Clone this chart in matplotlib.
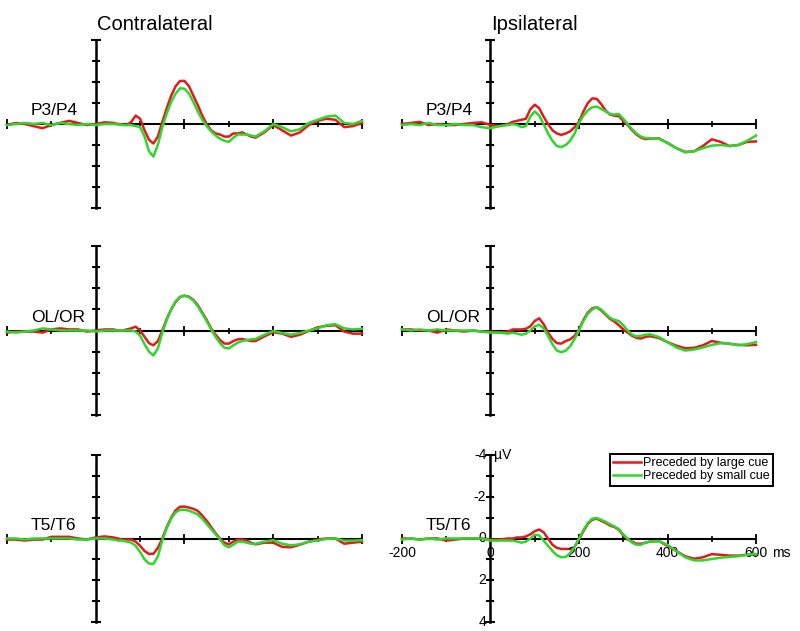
import numpy as np
import matplotlib
matplotlib.use('Agg')
import matplotlib.pyplot as plt
from matplotlib.lines import Line2D

plt.rcParams['font.family'] = ['Liberation Sans', 'DejaVu Sans']

# ---------------- data ----------------
time_ms = ([-200, -180, -160, -140, -120, -100, -80, -60, -40, -20, 0, 20, 40]
           + list(range(50, 351, 10))
           + list(range(360, 601, 20)))

column_titles = ['Contralateral', 'Ipsilateral']
site_labels = ['P3/P4', 'OL/OR', 'T5/T6']
legend_labels = ['Preceded by large cue', 'Preceded by small cue']
series_colors = ['#e31a1c', '#2fd62f']

# Contralateral P3/P4
contra_p3p4_large = [0.05, -0.05, 0.0, 0.1, 0.2, 0.05, -0.05, -0.15, -0.05, 0.05, 0.0, -0.08, -0.05,
                     0.0, 0.02, 0.05, -0.1, -0.4, -0.25, 0.3, 0.75, 0.93, 0.6, -0.1, -0.75, -1.35, -1.8, -2.05,
                     -2.05, -1.8, -1.35, -0.9, -0.4, 0.0, 0.3, 0.45, 0.5, 0.6, 0.6, 0.45, 0.45, 0.4, 0.5, 0.6,
                     0.65, 0.4, 0.05, 0.3, 0.55, 0.4, 0.05, -0.15, -0.25, -0.2, 0.15, 0.1, -0.05]
contra_p3p4_small = [0.05, 0.0, -0.05, 0.0, -0.05, 0.05, -0.05, 0.0, 0.05, 0.0, 0.05, 0.0, 0.0,
                     0.02, 0.05, 0.05, 0.05, 0.1, 0.15, 0.6, 1.3, 1.55, 1.0, 0.15, -0.5, -1.05, -1.45, -1.7,
                     -1.68, -1.45, -1.05, -0.6, -0.2, 0.1, 0.35, 0.55, 0.7, 0.8, 0.85, 0.65, 0.5, 0.5, 0.5, 0.55,
                     0.6, 0.35, 0.0, 0.15, 0.35, 0.25, -0.05, -0.2, -0.35, -0.4, -0.05, 0.0, -0.15]

# Ipsilateral P3/P4
ipsi_p3p4_large = [0.0, -0.05, -0.1, 0.05, 0.0, 0.05, 0.05, 0.0, -0.05, -0.08, 0.05, 0.1, 0.0,
                   -0.1, -0.15, -0.2, -0.25, -0.7, -0.92, -0.75, -0.35, 0.0, 0.3, 0.45, 0.52, 0.45, 0.35, 0.15,
                   -0.1, -0.6, -1.0, -1.22, -1.2, -0.95, -0.65, -0.45, -0.4, -0.38, -0.15, 0.05, 0.3, 0.5, 0.65, 0.72,
                   0.7, 0.68, 0.9, 1.15, 1.33, 1.3, 1.05, 0.73, 0.85, 1.05, 1.0, 0.85, 0.83]
ipsi_p3p4_small = [0.05, 0.0, 0.05, -0.05, 0.05, 0.05, 0.0, 0.05, 0.05, 0.15, 0.2, 0.1, 0.05,
                   0.0, 0.05, 0.15, 0.1, -0.35, -0.6, -0.4, 0.0, 0.45, 0.8, 1.05, 1.1, 1.0, 0.8, 0.45,
                   -0.05, -0.4, -0.65, -0.8, -0.83, -0.72, -0.6, -0.48, -0.45, -0.47, -0.25, 0.0, 0.25, 0.45, 0.6, 0.67,
                   0.68, 0.7, 0.9, 1.15, 1.35, 1.3, 1.15, 1.03, 1.0, 1.05, 1.0, 0.8, 0.55]

# Contralateral OL/OR
contra_olor_large = [0.1, 0.05, 0.05, 0.05, 0.1, -0.05, -0.1, -0.05, -0.05, 0.05, 0.0, -0.05, -0.05,
                     0.0, 0.0, -0.05, -0.1, -0.18, 0.0, 0.3, 0.6, 0.7, 0.5, 0.0, -0.55, -1.0, -1.35, -1.58,
                     -1.65, -1.6, -1.45, -1.2, -0.85, -0.5, -0.1, 0.2, 0.45, 0.62, 0.62, 0.5, 0.42, 0.4, 0.45, 0.5,
                     0.5, 0.28, 0.08, 0.15, 0.3, 0.2, 0.02, -0.15, -0.22, -0.25, 0.05, 0.15, 0.15]
contra_olor_small = [0.05, 0.1, 0.05, 0.0, -0.1, -0.05, 0.0, 0.0, 0.0, 0.0, 0.05, 0.0, 0.0,
                     0.0, 0.0, 0.0, 0.0, 0.05, 0.25, 0.65, 1.0, 1.18, 0.85, 0.1, -0.5, -1.0, -1.38, -1.6,
                     -1.65, -1.58, -1.42, -1.15, -0.8, -0.45, -0.05, 0.3, 0.6, 0.82, 0.85, 0.7, 0.58, 0.5, 0.45, 0.42,
                     0.4, 0.2, 0.02, 0.12, 0.2, 0.12, 0.0, -0.1, -0.25, -0.3, -0.1, -0.05, -0.08]

# Ipsilateral OL/OR
ipsi_olor_large = [-0.05, -0.05, 0.0, 0.0, 0.1, -0.05, 0.0, 0.05, 0.0, 0.05, 0.05, 0.1, 0.05,
                   -0.05, -0.05, -0.05, -0.08, -0.2, -0.45, -0.58, -0.3, 0.1, 0.4, 0.6, 0.62, 0.5, 0.42, 0.25,
                   -0.05, -0.5, -0.85, -1.05, -1.1, -0.95, -0.75, -0.55, -0.42, -0.25, -0.05, 0.1, 0.25, 0.35, 0.38, 0.3,
                   0.27, 0.35, 0.55, 0.72, 0.84, 0.82, 0.7, 0.5, 0.58, 0.63, 0.68, 0.7, 0.68]
ipsi_olor_small = [-0.05, 0.0, -0.05, 0.0, -0.05, 0.0, 0.0, 0.0, 0.0, 0.05, 0.1, 0.1, 0.15,
                   0.1, 0.15, 0.2, 0.15, 0.0, -0.2, -0.27, -0.1, 0.25, 0.65, 0.95, 1.03, 0.95, 0.75, 0.4,
                   0.0, -0.45, -0.8, -1.0, -1.1, -1.0, -0.8, -0.6, -0.5, -0.45, -0.25, 0.0, 0.2, 0.28, 0.25, 0.2,
                   0.18, 0.3, 0.55, 0.8, 0.95, 0.9, 0.8, 0.68, 0.6, 0.62, 0.7, 0.65, 0.55]

# Contralateral T5/T6
contra_t5t6_large = [0.05, 0.05, 0.1, 0.05, 0.05, -0.08, -0.08, -0.08, 0.0, 0.05, -0.05, -0.1, -0.05,
                     0.0, 0.05, 0.05, 0.05, 0.15, 0.35, 0.6, 0.74, 0.73, 0.45, 0.0, -0.55, -1.0, -1.35, -1.52,
                     -1.53, -1.48, -1.42, -1.32, -1.1, -0.85, -0.55, -0.25, 0.0, 0.2, 0.28, 0.15, 0.05, 0.05, 0.1, 0.2,
                     0.28, 0.2, 0.2, 0.4, 0.42, 0.3, 0.15, 0.05, 0.0, 0.0, 0.25, 0.2, 0.15]
contra_t5t6_small = [0.0, 0.0, 0.05, 0.0, 0.0, 0.0, 0.0, 0.0, 0.05, 0.05, 0.0, 0.0, 0.05,
                     0.1, 0.1, 0.15, 0.2, 0.35, 0.65, 1.0, 1.2, 1.22, 0.85, 0.1, -0.5, -0.95, -1.25, -1.37,
                     -1.38, -1.33, -1.25, -1.15, -0.95, -0.7, -0.45, -0.2, 0.05, 0.32, 0.42, 0.3, 0.15, 0.15, 0.2, 0.25,
                     0.25, 0.15, 0.08, 0.25, 0.33, 0.28, 0.15, 0.1, 0.02, 0.0, 0.1, 0.1, 0.08]

# Ipsilateral T5/T6
ipsi_t5t6_large = [0.0, 0.0, 0.05, 0.0, 0.0, 0.1, 0.05, 0.0, 0.0, 0.0, 0.05, 0.05, 0.0,
                   0.0, -0.05, -0.05, -0.1, -0.2, -0.35, -0.43, -0.3, 0.0, 0.3, 0.45, 0.5, 0.5, 0.5, 0.4,
                   0.05, -0.35, -0.7, -0.9, -0.95, -0.85, -0.75, -0.62, -0.55, -0.42, -0.15, 0.05, 0.15, 0.25, 0.25, 0.2,
                   0.15, 0.12, 0.35, 0.6, 0.85, 0.97, 0.9, 0.75, 0.78, 0.82, 0.82, 0.78, 0.76]
ipsi_t5t6_small = [0.05, 0.0, 0.05, 0.0, 0.05, 0.0, 0.0, 0.0, 0.0, 0.0, 0.1, 0.1, 0.1,
                   0.1, 0.15, 0.2, 0.15, 0.0, -0.18, -0.15, 0.1, 0.35, 0.6, 0.8, 0.9, 0.88, 0.7, 0.4,
                   0.0, -0.4, -0.75, -0.95, -0.98, -0.9, -0.8, -0.68, -0.58, -0.45, -0.2, 0.0, 0.2, 0.3, 0.3, 0.2,
                   0.15, 0.12, 0.3, 0.6, 0.9, 1.05, 1.05, 0.98, 0.92, 0.88, 0.85, 0.78, 0.74]

y_ticks_uv = [-3, -2, -1, 1, 2, 3]
y_caps_uv = [-4, 4]
x_major_ms = [200, 400]
x_minor_ms = [-100, 100, 300, 500]
x_caps_ms = [-200, 600]
x_ticklabels_ms = [-200, 0, 200, 400, 600]
y_ticklabels_uv = [-4, -2, 0, 2, 4]

panels = [
    [(contra_p3p4_large, contra_p3p4_small), (ipsi_p3p4_large, ipsi_p3p4_small)],
    [(contra_olor_large, contra_olor_small), (ipsi_olor_large, ipsi_olor_small)],
    [(contra_t5t6_large, contra_t5t6_small), (ipsi_t5t6_large, ipsi_t5t6_small)],
]

# ---------------- layout ----------------
W, H = 800, 631
fig = plt.figure(figsize=(W / 100, H / 100), dpi=100)

col_px = [(7, 362), (402, 756)]
row_px = [(40, 208), (246, 415), (455, 622)]

for r in range(3):
    for c in range(2):
        x0, x1 = col_px[c]
        ytop, ybot = row_px[r]
        ax = fig.add_axes([x0 / W, 1 - ybot / H, (x1 - x0) / W, (ybot - ytop) / H])
        ax.set_xlim(-200, 600)
        ax.set_ylim(4, -4)
        ax.axis('off')
        # axes cross
        ax.plot([x_caps_ms[0], x_caps_ms[1]], [0, 0], color='black', lw=1.5, clip_on=False, zorder=2)
        ax.plot([0, 0], [y_caps_uv[0], y_caps_uv[1]], color='black', lw=1.8, clip_on=False, zorder=2)
        ax.plot(np.zeros(len(y_ticks_uv)), y_ticks_uv, ls='none', marker='_', ms=5.5, mew=1.5,
                color='black', clip_on=False, zorder=2)
        ax.plot(np.zeros(len(y_caps_uv)), y_caps_uv, ls='none', marker='_', ms=7, mew=1.5,
                color='black', clip_on=False, zorder=2)
        ax.plot(x_major_ms, np.zeros(len(x_major_ms)), ls='none', marker='|', ms=6.5, mew=1.3,
                color='black', clip_on=False, zorder=2)
        ax.plot(x_minor_ms, np.zeros(len(x_minor_ms)), ls='none', marker='|', ms=4, mew=1.2,
                color='black', clip_on=False, zorder=2)
        ax.plot(x_caps_ms, np.zeros(len(x_caps_ms)), ls='none', marker='|', ms=7, mew=1.3,
                color='black', clip_on=False, zorder=2)
        # waveforms
        large, small = panels[r][c]
        ax.plot(time_ms, large, color=series_colors[0], lw=1.8, clip_on=False, zorder=3,
                solid_joinstyle='round')
        ax.plot(time_ms, small, color=series_colors[1], lw=1.8, clip_on=False, zorder=4,
                solid_joinstyle='round')
        # site label
        ax.text(-146, -0.28, site_labels[r], fontsize=12.5, ha='left', va='bottom', zorder=5)

        if r == 2 and c == 1:
            for v in y_ticklabels_uv:
                ax.annotate(f'{v}', (0, v), xytext=(-3, 0), textcoords='offset points',
                            ha='right', va='center', fontsize=10)
            ax.annotate('\u00b5V', (0, -4), xytext=(2.5, 0), textcoords='offset points',
                        ha='left', va='center', fontsize=10)
            for v in x_ticklabels_ms:
                ax.annotate(f'{v}', (v, 0), xytext=(0, -5.5), textcoords='offset points',
                            ha='center', va='top', fontsize=10)
            ax.annotate('ms', (600, 0), xytext=(11.5, -5.5), textcoords='offset points',
                        ha='left', va='top', fontsize=10)

# column titles
fig.text(97 / W, 1 - 30 / H, column_titles[0], fontsize=14.5, ha='left', va='baseline')
fig.text(491 / W, 1 - 30 / H, column_titles[1], fontsize=14.5, ha='left', va='baseline')

# legend
handles = [Line2D([], [], color=series_colors[0], lw=1.8),
           Line2D([], [], color=series_colors[1], lw=1.8)]
leg = fig.legend(handles, legend_labels, loc='upper right',
                 bbox_to_anchor=(773 / W, 1 - 454 / H), frameon=True, fancybox=False,
                 edgecolor='black', framealpha=1, fontsize=9, handlelength=2.3,
                 handletextpad=0.15, borderpad=0.25, labelspacing=0.1, borderaxespad=0)
leg.get_frame().set_linewidth(1.4)

fig.savefig('out.png', dpi=100)
